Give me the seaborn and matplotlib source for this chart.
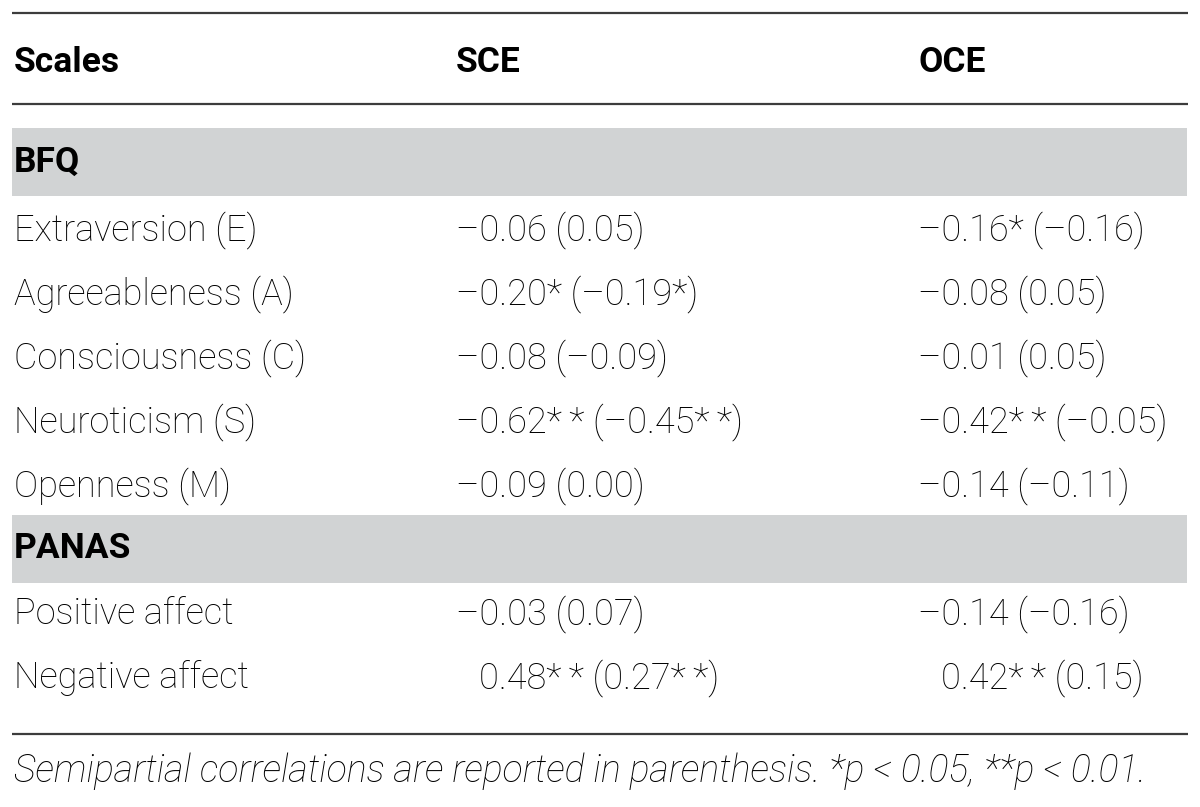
import matplotlib
matplotlib.use("Agg")
import matplotlib.pyplot as plt
import seaborn as sns

# table content
groups = ["BFQ", "PANAS"]
group_sizes = [5, 2]
scales = ["Extraversion (E)", "Agreeableness (A)", "Consciousness (C)",
          "Neuroticism (S)", "Openness (M)", "Positive affect", "Negative affect"]

sce_r = [-0.06, -0.20, -0.08, -0.62, -0.09, -0.03, 0.48]
sce_r_sig = ["", "*", "", "**", "", "", "**"]
sce_semi = [0.05, -0.19, -0.09, -0.45, 0.00, 0.07, 0.27]
sce_semi_sig = ["", "*", "", "**", "", "", "**"]

oce_r = [-0.16, -0.08, -0.01, -0.42, -0.14, -0.14, 0.42]
oce_r_sig = ["*", "", "", "**", "", "", "**"]
oce_semi = [-0.16, 0.05, 0.05, -0.05, -0.11, -0.16, 0.15]
oce_semi_sig = ["", "", "", "", "", "", ""]

columns = ["Scales", "SCE", "OCE"]
footnote = "Semipartial correlations are reported in parenthesis. *p < 0.05, **p < 0.01."

MINUS = "\u2013"  # the typeset table uses a long dash for minus


def fmt(v):
    return f"{v:.2f}".replace("-", MINUS)


def stars(s):
    return "\u2009".join(s) if s else ""


def cell(r, rs, p, ps):
    return f"{fmt(r)}{stars(rs)} ({fmt(p)}{stars(ps)})"


sns.set_theme(style="white")
plt.rcParams["font.family"] = ["Roboto", "DejaVu Sans"]

fig = plt.figure(figsize=(12, 8.07), dpi=100)
ax = fig.add_axes([0, 0, 1, 1])
ax.set_xlim(0, 1200)
ax.set_ylim(807, 0)
ax.axis("off")

line_col = "#3c3c3c"
band_col = "#d1d3d4"
text_col = "black"
col_x = [14, 456, 918]
fs = 26
head_fs = 25.5

# rules
ax.hlines([13, 104, 734], 12, 1188, color=line_col, lw=1.6)

# header
for x, name in zip(col_x, columns):
    ax.text(x, 62, name, fontsize=head_fs, fontweight="bold",
            va="center", ha="left", color="black")

# width of the minus so positive values line up on the digits
renderer = fig.canvas.get_renderer()
probe = ax.text(0, 0, MINUS, fontsize=fs, fontweight="light")
minus_w = probe.get_window_extent(renderer=renderer).width
probe.remove()

band_y = [162, 549]
row_y = [230, 294, 358, 422, 486, 614, 678]
k = 0
for g, n, by in zip(groups, group_sizes, band_y):
    ax.axhspan(by - 34, by + 34, xmin=12 / 1200, xmax=1187 / 1200, color=band_col, lw=0)
    ax.text(col_x[0], by, g, fontsize=head_fs, fontweight="bold",
            va="center", ha="left", color="black")
    for _ in range(n):
        y = row_y[k]
        ax.text(col_x[0], y, scales[k], fontsize=fs, fontweight="light", va="center", color=text_col)
        for cx, r, rs, p, ps in [(col_x[1], sce_r[k], sce_r_sig[k], sce_semi[k], sce_semi_sig[k]),
                                 (col_x[2], oce_r[k], oce_r_sig[k], oce_semi[k], oce_semi_sig[k])]:
            off = minus_w if r >= 0 else 0
            ax.text(cx + off, y, cell(r, rs, p, ps), fontsize=fs, fontweight="light",
                    va="center", color=text_col)
        k += 1

ax.text(col_x[0], 771, footnote, fontsize=27, fontstyle="italic", fontweight="light",
        va="center", color=text_col)

fig.savefig("out.png", dpi=100)
